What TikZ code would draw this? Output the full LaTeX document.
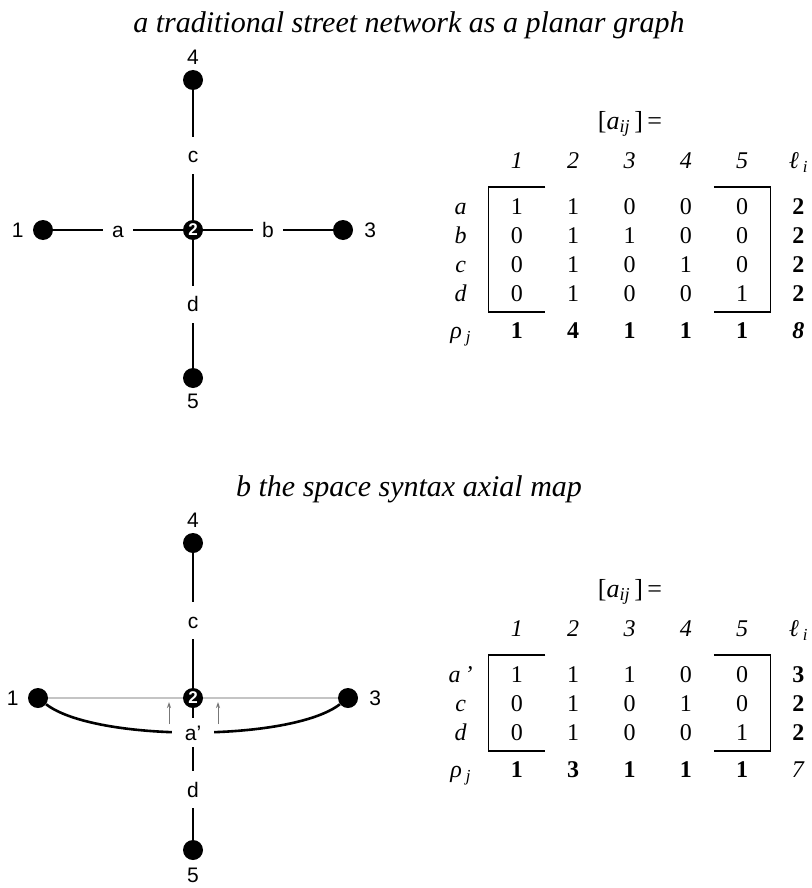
\documentclass[tikz,border=0pt]{standalone}
\usepackage{fontspec}
\setmainfont{Liberation Serif}
\setsansfont{Liberation Sans}
\usetikzlibrary{positioning, matrix, arrows.meta}
\definecolor{ghostgray}{HTML}{C4C4C4}
\definecolor{tickgray}{HTML}{777777}
\newcommand{\elli}{\textit{ℓ}\,\textsubscript{\textit{i}}}
\newcommand{\rhoj}{\textit{ρ}\,\textsubscript{\textit{j}}}
\newcommand{\aijeq}{[\textit{a}\textsubscript{\textit{ij}}\,]\,=}

\begin{document}
\begin{tikzpicture}[
    x=1pt, y=-1pt,
    dot/.style={circle, fill=black, inner sep=0pt, minimum size=20pt},
    hub/.style={
      circle, fill=black, inner sep=0pt, minimum size=20pt,
      text=white, font=\sffamily\bfseries\fontsize{17}{17}\selectfont,
    },
    numlbl/.style={font=\sffamily\fontsize{21}{21}\selectfont, inner sep=0pt},
    street/.style={line width=2.6pt},
    streetlbl/.style={
      fill=white, font=\sffamily\fontsize{21}{21}\selectfont,
      text height=15pt, text depth=0pt, inner xsep=9pt, inner ysep=11pt,
    },
    axlbl/.style={
      fill=white, font=\sffamily\fontsize{21}{21}\selectfont,
      text height=15pt, text depth=0pt, inner xsep=13pt, inner ysep=7pt,
    },
    ghost/.style={draw=ghostgray, line width=2pt},
    pointer/.style={-{Stealth[length=6pt, width=4pt]}, draw=tickgray, line width=1pt},
    caption/.style={font=\itshape\fontsize{30}{30}\selectfont, anchor=base},
    eq/.style={font=\fontsize{26}{26}\selectfont},
    adj/.style={
      matrix of nodes,
      nodes={
        minimum width=56.3pt, minimum height=29pt, inner sep=0pt,
        text height=18pt, text depth=5pt,
        font=\fontsize{24}{24}\selectfont,
      },
    },
    brk/.style={line width=1.8pt},
  ]
  \path[fill=white, use as bounding box] (0,0) rectangle (811,888);

  % a: planar graph
  \node[caption] (tta) at (409,33) {a traditional street network as a planar graph};

  \node[dot] (n4) at (193,80) {};
  \node[hub] (n2) at (193,230) {2};
  \node[dot] (n1) at (43,230) {};
  \node[dot] (n3) at (343,230) {};
  \node[dot] (n5) at (193,378) {};

  \node[numlbl, above=5pt of n4] {4};
  \node[numlbl, left=9pt of n1] {1};
  \node[numlbl, right=11pt of n3] {3};
  \node[numlbl, below=6pt of n5] {5};

  \draw[street] (n1) -- node[streetlbl] {a} (n2);
  \draw[street] (n2) -- node[streetlbl] {b} (n3);
  \draw[street] (n4) -- node[streetlbl] {c} (n2);
  \draw[street] (n2) -- node[streetlbl] {d} (n5);

  \node[eq] (eqa) at (630,124) {\aijeq};
  \matrix (ma) [adj] at (629.5,247) {
               & \textit{1} & \textit{2} & \textit{3} & \textit{4} & \textit{5} & \elli \\[17pt]
    \textit{a} & 1 & 1 & 0 & 0 & 0 & \textbf{2} \\
    \textit{b} & 0 & 1 & 1 & 0 & 0 & \textbf{2} \\
    \textit{c} & 0 & 1 & 0 & 1 & 0 & \textbf{2} \\
    \textit{d} & 0 & 1 & 0 & 0 & 1 & \textbf{2} \\[8pt]
    \rhoj & \textbf{1} & \textbf{4} & \textbf{1} & \textbf{1} & \textbf{1} & \textbf{\textit{8}} \\
  };
  \draw[brk] ([yshift=6.5pt]ma-2-2.north east) -- ([yshift=6.5pt]ma-2-2.north west)
    -- ([yshift=-2pt]ma-5-2.south west) -- ([yshift=-2pt]ma-5-2.south east);
  \draw[brk] ([yshift=6.5pt]ma-2-6.north west) -- ([yshift=6.5pt]ma-2-6.north east)
    -- ([yshift=-2pt]ma-5-6.south east) -- ([yshift=-2pt]ma-5-6.south west);

  % b: axial map
  \node[caption] (ttb) at (409,496) {b the space syntax axial map};

  \node[dot] (m4) at (193,543) {};
  \node[hub] (m2) at (193,698) {2};
  \node[dot] (m1) at (38,698) {};
  \node[dot] (m3) at (348,698) {};
  \node[dot] (m5) at (193,850) {};

  \node[numlbl, above=5pt of m4] {4};
  \node[numlbl, left=9pt of m1] {1};
  \node[numlbl, right=11pt of m3] {3};
  \node[numlbl, below=8pt of m5] {5};

  \draw[ghost] (m1) -- (m2);
  \draw[ghost] (m2) -- (m3);
  \draw[street] (m4) -- node[streetlbl] {c} (m2);
  \draw[street] (m2) -- node[streetlbl, pos=0.62] {d} (m5);
  \draw[street] (m1) .. controls (95,742) and (291,742) .. node[axlbl] {a’} (m3);

  \coordinate (p1) at (169,724);
  \coordinate (p1t) at (169,702);
  \coordinate (p2) at (218,724);
  \coordinate (p2t) at (218,702);
  \draw[pointer] (p1) -- (p1t);
  \draw[pointer] (p2) -- (p2t);

  \node[eq] (eqb) at (630,592) {\aijeq};
  \matrix (mb) [adj] at (629.5,700.5) {
                       & \textit{1} & \textit{2} & \textit{3} & \textit{4} & \textit{5} & \elli \\[17pt]
    \textit{a}\,\textit{’} & 1 & 1 & 1 & 0 & 0 & \textbf{3} \\
    \textit{c} & 0 & 1 & 0 & 1 & 0 & \textbf{2} \\
    \textit{d} & 0 & 1 & 0 & 0 & 1 & \textbf{2} \\[8pt]
    \rhoj & \textbf{1} & \textbf{3} & \textbf{1} & \textbf{1} & \textbf{1} & \textit{7} \\
  };
  \draw[brk] ([yshift=6.5pt]mb-2-2.north east) -- ([yshift=6.5pt]mb-2-2.north west)
    -- ([yshift=-2pt]mb-4-2.south west) -- ([yshift=-2pt]mb-4-2.south east);
  \draw[brk] ([yshift=6.5pt]mb-2-6.north west) -- ([yshift=6.5pt]mb-2-6.north east)
    -- ([yshift=-2pt]mb-4-6.south east) -- ([yshift=-2pt]mb-4-6.south west);
\end{tikzpicture}
\end{document}
